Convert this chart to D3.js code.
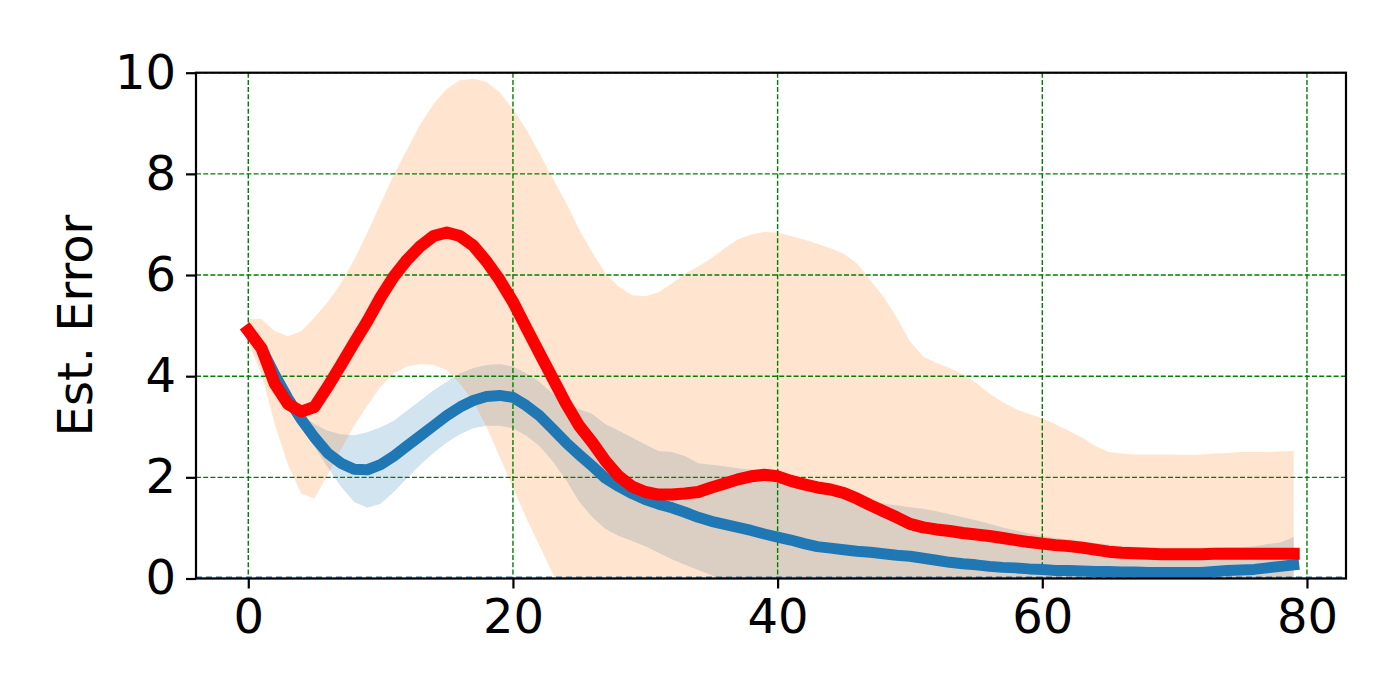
<!DOCTYPE html>
<html>
<head>
<meta charset="utf-8">
<script src="https://cdn.jsdelivr.net/npm/d3@7"></script>
<style>
  body { margin: 0; background: #fff; }
  text { font-family: "DejaVu Sans", sans-serif; }
</style>
</head>
<body>
<div id="chart"></div>
<script>
// x = 0..79
const steps = d3.range(80);

// blue mean and its band
const blueMean = [4.90, 4.55, 4.03, 3.56, 3.15, 2.79, 2.48, 2.28, 2.16, 2.15,
  2.25, 2.42, 2.62, 2.82, 3.02, 3.22, 3.39, 3.52, 3.60, 3.62,
  3.58, 3.42, 3.22, 2.96, 2.69, 2.45, 2.22, 1.98, 1.82, 1.68,
  1.56, 1.47, 1.40, 1.31, 1.21, 1.13, 1.07, 1.01, 0.95, 0.88,
  0.82, 0.76, 0.69, 0.63, 0.60, 0.57, 0.54, 0.52, 0.49, 0.46,
  0.44, 0.40, 0.36, 0.32, 0.29, 0.27, 0.24, 0.22, 0.21, 0.19,
  0.18, 0.16, 0.16, 0.15, 0.14, 0.14, 0.13, 0.13, 0.12, 0.12,
  0.12, 0.12, 0.12, 0.14, 0.16, 0.17, 0.18, 0.21, 0.24, 0.27];
const blueUpper = [4.90, 4.60, 4.10, 3.65, 3.25, 3.05, 2.92, 2.85, 2.83, 2.89,
  2.99, 3.12, 3.32, 3.52, 3.72, 3.89, 4.06, 4.16, 4.22, 4.24,
  4.19, 4.06, 3.89, 3.66, 3.45, 3.35, 3.25, 3.05, 2.92, 2.79,
  2.65, 2.52, 2.50, 2.42, 2.28, 2.25, 2.22, 2.18, 2.15, 2.12,
  2.07, 1.98, 1.90, 1.82, 1.75, 1.68, 1.60, 1.51, 1.48, 1.45,
  1.41, 1.38, 1.33, 1.27, 1.21, 1.15, 1.08, 1.01, 0.95, 0.89,
  0.84, 0.80, 0.77, 0.74, 0.70, 0.67, 0.64, 0.63, 0.62, 0.61,
  0.61, 0.61, 0.61, 0.61, 0.62, 0.62, 0.64, 0.68, 0.71, 0.82];
const blueLower = [4.90, 4.50, 3.96, 3.47, 3.05, 2.60, 2.20, 1.82, 1.51, 1.40,
  1.48, 1.71, 1.98, 2.25, 2.48, 2.69, 2.85, 2.97, 3.02, 3.02,
  2.97, 2.82, 2.62, 2.32, 1.95, 1.52, 1.21, 0.98, 0.84, 0.74,
  0.64, 0.51, 0.38, 0.27, 0.17, 0.07, -0.08, -0.16, -0.25, -0.36,
  -0.43, -0.46, -0.52, -0.56, -0.55, -0.54, -0.52, -0.47, -0.50, -0.53,
  -0.53, -0.58, -0.61, -0.63, -0.63, -0.61, -0.60, -0.57, -0.53, -0.51,
  -0.48, -0.48, -0.45, -0.44, -0.42, -0.39, -0.38, -0.37, -0.38, -0.37,
  -0.37, -0.37, -0.37, -0.33, -0.30, -0.28, -0.28, -0.26, -0.23, -0.28];

// red mean and its (orange) band
const redMean = [4.90, 4.55, 3.85, 3.45, 3.30, 3.39, 3.79, 4.22, 4.66, 5.09,
  5.56, 5.97, 6.30, 6.57, 6.77, 6.84, 6.77, 6.58, 6.27, 5.90,
  5.47, 4.96, 4.46, 3.96, 3.46, 3.02, 2.69, 2.32, 2.02, 1.82,
  1.71, 1.66, 1.66, 1.68, 1.71, 1.80, 1.88, 1.96, 2.02, 2.05,
  2.02, 1.93, 1.86, 1.80, 1.76, 1.69, 1.58, 1.45, 1.33, 1.21,
  1.08, 1.01, 0.97, 0.94, 0.90, 0.87, 0.84, 0.80, 0.76, 0.72,
  0.69, 0.66, 0.64, 0.61, 0.57, 0.53, 0.51, 0.50, 0.49, 0.48,
  0.48, 0.48, 0.48, 0.49, 0.49, 0.49, 0.49, 0.49, 0.49, 0.49];
const orangeUpper = [5.13, 5.13, 4.89, 4.79, 4.89, 5.16, 5.46, 5.83, 6.30, 6.84,
  7.41, 7.98, 8.48, 8.98, 9.38, 9.68, 9.85, 9.88, 9.82, 9.61,
  9.28, 8.88, 8.41, 7.91, 7.44, 6.90, 6.44, 6.03, 5.77, 5.60,
  5.58, 5.66, 5.83, 6.03, 6.17, 6.33, 6.53, 6.70, 6.80, 6.85,
  6.84, 6.77, 6.70, 6.62, 6.53, 6.42, 6.23, 5.90, 5.57, 5.16,
  4.69, 4.39, 4.26, 4.16, 4.04, 3.87, 3.66, 3.49, 3.35, 3.25,
  3.17, 3.05, 2.92, 2.79, 2.62, 2.50, 2.47, 2.45, 2.45, 2.45,
  2.45, 2.44, 2.45, 2.47, 2.48, 2.50, 2.50, 2.50, 2.51, 2.52];
const orangeLower = [4.65, 4.05, 3.05, 2.25, 1.68, 1.58, 2.05, 2.55, 3.02, 3.42,
  3.79, 4.06, 4.19, 4.24, 4.22, 4.12, 3.85, 3.50, 3.00, 2.40,
  1.80, 1.20, 0.65, 0.10, -0.45, -0.86, -1.06, -1.39, -1.73, -1.96,
  -2.16, -2.34, -2.51, -2.67, -2.75, -2.73, -2.77, -2.78, -2.76, -2.75,
  -2.80, -2.91, -2.98, -3.02, -3.01, -3.04, -3.07, -3.00, -2.91, -2.74,
  -2.53, -2.37, -2.32, -2.28, -2.24, -2.13, -1.98, -1.89, -1.83, -1.81,
  -1.79, -1.73, -1.64, -1.57, -1.48, -1.44, -1.45, -1.45, -1.47, -1.49,
  -1.49, -1.49, -1.49, -1.52, -1.52, -1.52, -1.52, -1.52, -1.52, -1.52];

const xTicks = [0, 20, 40, 60, 80];
const yTicks = [0, 2, 4, 6, 8, 10];

const width = 1400;
const height = 700;
const margin = { top: 72.7, right: 54, bottom: 121.5, left: 196 };

const svg = d3.select('#chart')
  .append('svg')
  .attr('width', width)
  .attr('height', height);

svg.append('rect')
  .attr('width', width)
  .attr('height', height)
  .attr('fill', '#fff');

const x = d3.scaleLinear()
  .domain([-3.95, 82.95])
  .range([margin.left, width - margin.right]);

const y = d3.scaleLinear()
  .domain([0, 10])
  .range([height - margin.bottom, margin.top]);

svg.append('clipPath')
  .attr('id', 'plot-clip')
  .append('rect')
  .attr('x', margin.left)
  .attr('y', margin.top)
  .attr('width', width - margin.left - margin.right)
  .attr('height', height - margin.top - margin.bottom);

const plot = svg.append('g').attr('clip-path', 'url(#plot-clip)');

const area = (lo, hi) => d3.area()
  .x(d => x(d))
  .y0(d => y(lo[d]))
  .y1(d => y(hi[d]));

// bands
plot.append('path')
  .datum(steps)
  .attr('d', area(blueLower, blueUpper))
  .attr('fill', '#1f77b4')
  .attr('fill-opacity', 0.2);

plot.append('path')
  .datum(steps)
  .attr('d', area(orangeLower, orangeUpper))
  .attr('fill', '#ff7f0e')
  .attr('fill-opacity', 0.2);

// grid
plot.selectAll('.gx')
  .data(xTicks)
  .enter().append('line')
  .attr('x1', d => x(d))
  .attr('x2', d => x(d))
  .attr('y1', margin.top)
  .attr('y2', height - margin.bottom)
  .attr('stroke', 'green')
  .attr('stroke-width', 1.4)
  .attr('stroke-dasharray', '5,2.2');

plot.selectAll('.gy')
  .data(yTicks)
  .enter().append('line')
  .attr('x1', margin.left)
  .attr('x2', width - margin.right)
  .attr('y1', d => y(d))
  .attr('y2', d => y(d))
  .attr('stroke', 'green')
  .attr('stroke-width', 1.4)
  .attr('stroke-dasharray', '5,2.2');

// dashed zero line
plot.append('line')
  .attr('x1', margin.left)
  .attr('x2', width - margin.right)
  .attr('y1', y(0) - 1)
  .attr('y2', y(0) - 1)
  .attr('stroke', '#1f77b4')
  .attr('stroke-width', 2)
  .attr('stroke-dasharray', '6,4');

const line = vals => d3.line()
  .x(d => x(d))
  .y(d => y(vals[d]));

plot.append('path')
  .datum(steps)
  .attr('d', line(blueMean))
  .attr('fill', 'none')
  .attr('stroke', '#1f77b4')
  .attr('stroke-width', 11)
  .attr('stroke-linejoin', 'round')
  .attr('stroke-linecap', 'square');

plot.append('path')
  .datum(steps)
  .attr('d', line(redMean))
  .attr('fill', 'none')
  .attr('stroke', 'red')
  .attr('stroke-width', 12)
  .attr('stroke-linejoin', 'round')
  .attr('stroke-linecap', 'square');

// axes
const xAxis = svg.append('g')
  .attr('transform', `translate(0,${height - margin.bottom})`)
  .call(d3.axisBottom(x).tickValues(xTicks).tickSize(10).tickPadding(10).tickFormat(d3.format('d')));

const yAxis = svg.append('g')
  .attr('transform', `translate(${margin.left},0)`)
  .call(d3.axisLeft(y).tickValues(yTicks).tickSize(10).tickPadding(10).tickFormat(d3.format('d')));

[xAxis, yAxis].forEach(ax => {
  ax.select('.domain').remove();
  ax.selectAll('.tick line').attr('stroke', '#000').attr('stroke-width', 2.2);
  ax.selectAll('.tick text')
    .attr('fill', '#000')
    .style('font-family', '"DejaVu Sans", sans-serif')
    .style('font-size', '48px');
});

// frame
svg.append('rect')
  .attr('x', margin.left)
  .attr('y', margin.top)
  .attr('width', width - margin.left - margin.right)
  .attr('height', height - margin.top - margin.bottom)
  .attr('fill', 'none')
  .attr('stroke', '#000')
  .attr('stroke-width', 2.2);

svg.append('text')
  .attr('transform', `translate(92,${(margin.top + height - margin.bottom) / 2}) rotate(-90)`)
  .attr('text-anchor', 'middle')
  .style('font-size', '48px')
  .text('Est. Error');
</script>
</body>
</html>
